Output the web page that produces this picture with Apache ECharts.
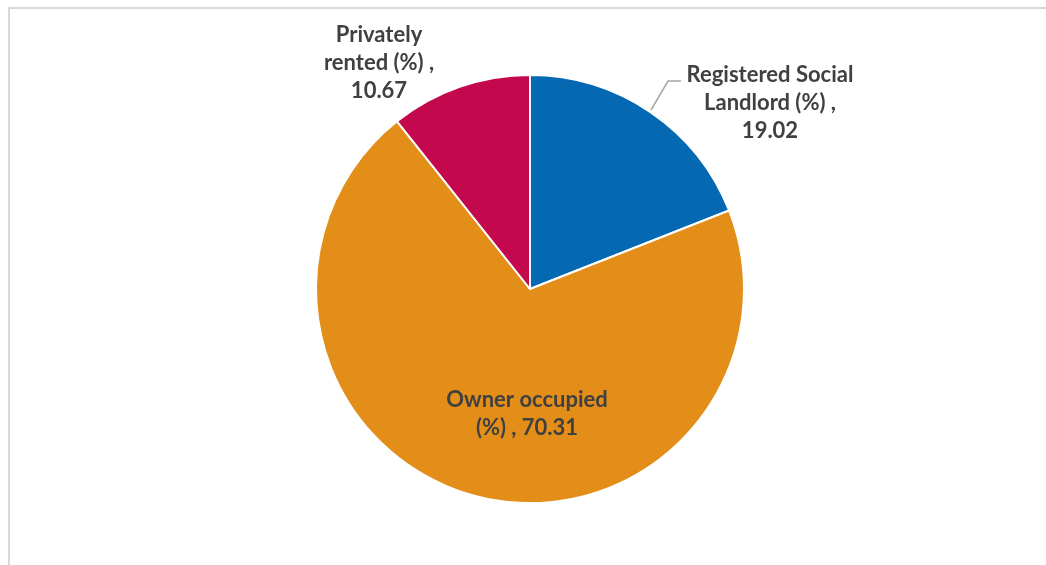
<!DOCTYPE html>
<html>
<head>
<meta charset="utf-8">
<title>Housing tenure</title>
<script src="https://cdn.jsdelivr.net/npm/echarts@6/dist/echarts.min.js"></script>
<style>
  html, body { margin: 0; padding: 0; background: #ffffff; }
  #chart { width: 1046px; height: 565px; }
</style>
</head>
<body>
<div id="chart"></div>
<script>
// Tenure categories and their shares (%)
const categories = ['Registered Social Landlord (%)', 'Owner occupied (%)', 'Privately rented (%)'];
const values = [19.02, 70.31, 10.67];
const colors = ['#0568B2', '#E48E1A', '#C4084D'];

// Label text broken over lines the way it is set on the chart
const labelLines = [
  ['Registered Social', 'Landlord (%) ,', '19.02'],
  ['Owner occupied', '(%) , 70.31'],
  ['Privately', 'rented (%) ,', '10.67']
];

const chart = echarts.init(document.getElementById('chart'), null, { renderer: 'canvas' });

const labelPlacement = [
  { x: 770, y: 103, line: [[651, 110], [668, 81], [681, 81]] },
  { x: 527, y: 414 },
  { x: 379, y: 63 }
];

chart.setOption({
  animation: false,
  backgroundColor: '#ffffff',
  graphic: [{
    type: 'rect',
    shape: { x: 9, y: 8, width: 1200, height: 700 },
    style: { fill: 'none', stroke: '#d9d9d9', lineWidth: 2 },
    silent: true
  }],
  series: [{
    type: 'pie',
    center: [530, 289],
    radius: [0, 214],
    startAngle: 90,
    clockwise: true,
    data: categories.map((name, i) => ({
      name: name,
      value: values[i],
      itemStyle: { color: colors[i] },
      label: {
        position: i === 1 ? 'inside' : 'outside',
        formatter: labelLines[i].join('\n')
      },
      labelLine: { show: i === 0 }
    })),
    itemStyle: { borderColor: '#ffffff', borderWidth: 2 },
    label: {
      show: true,
      color: '#404040',
      fontFamily: 'Lato',
      fontWeight: 'bold',
      fontSize: 22,
      lineHeight: 28,
      align: 'center'
    },
    labelLine: {
      show: true,
      lineStyle: { color: '#a6a6a6', width: 1.5 }
    },
    labelLayout: function (params) {
      const p = labelPlacement[params.dataIndex];
      const out = { x: p.x, y: p.y, align: 'center', verticalAlign: 'middle' };
      if (p.line) out.labelLinePoints = p.line;
      return out;
    }
  }]
});
</script>
</body>
</html>
